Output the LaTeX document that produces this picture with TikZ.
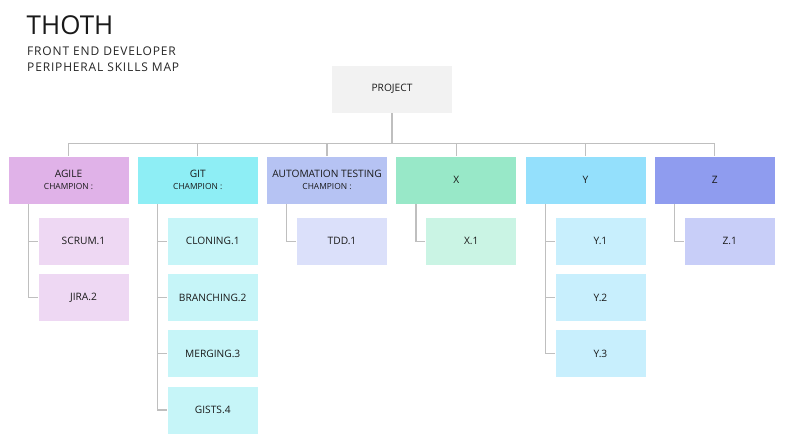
\documentclass[tikz,border=0pt]{standalone}
\usepackage{fontspec}
\setmainfont{Open Sans}
\newfontfamily\subfont[LetterSpace=7]{Open Sans}
\usetikzlibrary{positioning}
\newcommand{\champsize}{\fontsize{8.4}{9}\selectfont}
\definecolor{projfill}{HTML}{F2F2F2}
\definecolor{agiletop}{HTML}{E0B2E8}
\definecolor{agilesub}{HTML}{EED8F3}
\definecolor{gittop}{HTML}{8EEEF5}
\definecolor{gitsub}{HTML}{C6F5F8}
\definecolor{autotop}{HTML}{B6C3F3}
\definecolor{autosub}{HTML}{DBE0FA}
\definecolor{xtop}{HTML}{98E8C8}
\definecolor{xsub}{HTML}{CAF4E4}
\definecolor{ytop}{HTML}{94E0FC}
\definecolor{ysub}{HTML}{C8EFFD}
\definecolor{ztop}{HTML}{8F9CEF}
\definecolor{zsub}{HTML}{C8CEF8}
\definecolor{linkgray}{HTML}{BFBFBF}
\begin{document}
\begin{tikzpicture}[x=1pt,y=1pt,
  box/.style={minimum width=121pt,minimum height=48pt,inner sep=0pt,draw=white,line width=0.6pt,
    align=center,text=black!90,font=\fontsize{10.2}{12}\selectfont},
  subbox/.style={box,minimum width=91pt},
  link/.style={draw=linkgray,line width=1.2pt}]
\useasboundingbox (0,0) rectangle (786,440);
\pgfmathsetmacro{\pitch}{129.25}
\pgfmathsetmacro{\firstx}{68.5}
\pgfmathsetmacro{\topy}{260}

\node[anchor=base west,inner sep=0pt,font=\fontsize{26}{30}\selectfont,text=black!90] (title) at (26.5,405.5) {THOTH};
\node[anchor=base west,inner sep=0pt,align=left,font=\subfont\fontsize{12}{16.7}\selectfont,text=black!85] (subtitle) at (27,368) {FRONT END DEVELOPER\\PERIPHERAL SKILLS MAP};

\node[box,fill=projfill] (project) at (392,351) {PROJECT};
\coordinate[below=30pt of project] (hub);

\node[box,fill=agiletop] (agile) at (\firstx,\topy) {AGILE\\[0pt]{\champsize CHAMPION :}};
\node[box,fill=gittop] (git) at (\firstx+\pitch,\topy) {GIT\\[0pt]{\champsize CHAMPION :}};
\node[box,fill=autotop] (auto) at (\firstx+2*\pitch,\topy) {AUTOMATION TESTING\\[0pt]{\champsize CHAMPION :}};
\node[box,fill=xtop] (x) at (\firstx+3*\pitch,\topy) {X};
\node[box,fill=ytop] (y) at (\firstx+4*\pitch,\topy) {Y};
\node[box,fill=ztop] (z) at (\firstx+5*\pitch,\topy) {Z};

\node[subbox,fill=agilesub,below=12.7pt of agile,xshift=15pt] (scrum) {SCRUM.1};
\node[subbox,fill=agilesub,below=7.6pt of scrum] (jira) {JIRA.2};

\node[subbox,fill=gitsub,below=12.7pt of git,xshift=15pt] (cloning) {CLONING.1};
\node[subbox,fill=gitsub,below=7.6pt of cloning] (branching) {BRANCHING.2};
\node[subbox,fill=gitsub,below=7.6pt of branching] (merging) {MERGING.3};
\node[subbox,fill=gitsub,below=7.6pt of merging] (gists) {GISTS.4};

\node[subbox,fill=autosub,below=12.7pt of auto,xshift=15pt] (tdd) {TDD.1};
\node[subbox,fill=xsub,below=12.7pt of x,xshift=15pt] (x1) {X.1};

\node[subbox,fill=ysub,below=12.7pt of y,xshift=15pt] (y1) {Y.1};
\node[subbox,fill=ysub,below=7.6pt of y1] (y2) {Y.2};
\node[subbox,fill=ysub,below=7.6pt of y2] (y3) {Y.3};

\node[subbox,fill=zsub,below=12.7pt of z,xshift=15pt] (z1) {Z.1};

\draw[link] (project.south) -- (hub);
\foreach \top in {agile,git,auto,x,y,z}
  \draw[link] (hub) -| (\top.north);

\foreach \top/\leaf in {agile/scrum,agile/jira,git/cloning,git/branching,git/merging,git/gists,
    auto/tdd,x/x1,y/y1,y/y2,y/y3,z/z1}
  \draw[link] ([xshift=20.5pt]\top.south west) |- (\leaf.west);
\end{tikzpicture}
\end{document}
